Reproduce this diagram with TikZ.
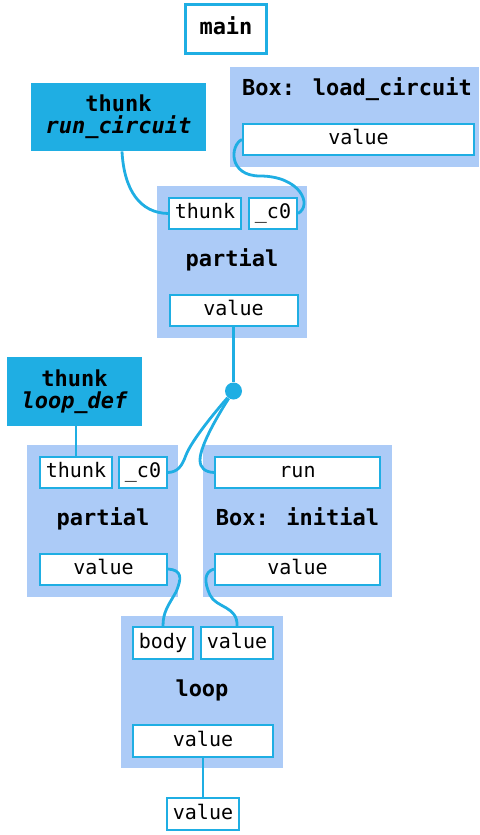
\documentclass[tikz,border=0pt]{standalone}
\usepackage{fontspec}
\setmainfont{DejaVu Sans Mono}
\definecolor{CellBlue}{RGB}{31,174,227}
\definecolor{PaleBlue}{RGB}{172,203,247}
\usetikzlibrary{positioning}

\begin{document}
\begin{tikzpicture}[x=0.5pt, y=-0.5pt,
        port/.style={rectangle, draw=CellBlue, line width=1pt, fill=white, inner sep=0pt, minimum height=15.5pt, font=\fontsize{10}{12}\selectfont, text height=7.3pt, text depth=2.3pt},
        frame/.style={rectangle, fill=PaleBlue, inner sep=0pt, minimum height=76pt},
        thunkbox/.style={rectangle, fill=CellBlue, inner sep=0pt, align=center, font=\fontsize{11}{11}\selectfont\bfseries},
        title/.style={anchor=base, inner sep=0pt, font=\fontsize{11}{13}\selectfont\bfseries},
        link/.style={draw=CellBlue, line width=1.4pt}
    ]
        \useasboundingbox (0,0) rectangle (479,835);
        \node[draw=CellBlue, line width=1.5pt, minimum width=40.5pt, minimum height=24.5pt, inner sep=0pt, font=\fontsize{11}{13}\selectfont\bfseries, text height=8.4pt, text depth=2.8pt] (main) at (226,29) {main};
        \node[thunkbox, minimum width=87.5pt, minimum height=34pt] (runc) at (118.5,117) {thunk\\\itshape run\_circuit};
        \node[thunkbox, minimum width=67.5pt, minimum height=34.5pt] (loopdef) at (74.5,391.5) {thunk\\\itshape loop\_def};
        \node[frame, minimum width=124.5pt, minimum height=50pt] (loadbox) at (354.5,117) {};
        \node[frame, minimum width=75pt] (partA) at (232,262) {};
        \node[frame, minimum width=75.5pt] (partB) at (102.5,521) {};
        \node[frame, minimum width=94.5pt] (initbox) at (297.5,521) {};
        \node[frame, minimum width=81pt] (loopbox) at (202,692) {};
        \node[title] (loadtitle) at (357,95) {Box: load\_circuit};
        \node[title] (partAtitle) at (232,266) {partial};
        \node[title] (partBtitle) at (103,525) {partial};
        \node[title] (inittitle) at (297.5,525) {Box: initial};
        \node[title] (looptitle) at (202,696) {loop};
        \node[port, minimum width=115.5pt] (loadval) at (358.5,139.5) {value};
        \node[port, minimum width=36pt] (partAthunk) at (205,213.5) {thunk};
        \node[port, minimum width=24pt] (partAc) at (273,213.5) {\_c0};
        \node[port, minimum width=64pt] (partAval) at (233.5,310.5) {value};
        \node[port, minimum width=36pt] (partBthunk) at (76,472.5) {thunk};
        \node[port, minimum width=24pt] (partBc) at (143,472.5) {\_c0};
        \node[port, minimum width=63.5pt] (partBval) at (103.5,569) {value};
        \node[port, minimum width=82.5pt] (initrun) at (297.5,472.5) {run};
        \node[port, minimum width=82.5pt] (initval) at (297.5,569) {value};
        \node[port, minimum width=30pt, minimum height=16pt] (loopbody) at (163,643) {body};
        \node[port, minimum width=36pt, minimum height=16pt] (loopin) at (237,643) {value};
        \node[port, minimum width=70pt, minimum height=16pt] (loopval) at (203,741) {value};
        \node[port, minimum width=36pt, minimum height=16pt] (result) at (203,814) {value};
        \node[circle, fill=CellBlue, inner sep=0pt, minimum size=8.5pt] (split) at (233.5,391) {};
        \draw[link] ([xshift=1.75pt]runc.south) .. controls (124,190) and (140,213) .. (partAthunk.west);
        \draw[link] (loadval.west) .. controls (230,145) and (228,176) .. (260,176) .. controls (300,176) and (313,205) .. (partAc.east);
        \draw[link] (partAval.south) -- (split);
        \draw[link] (split) .. controls (215,412) and (192,440) .. (186,455) .. controls (182,466) and (178,472) .. (partBc.east);
        \draw[link] (split) .. controls (220,412) and (200,445) .. (200,460) .. controls (200,468) and (205,472) .. (initrun.west);
        \draw[link] (partBthunk.north |- loopdef.south) -- (partBthunk.north);
        \draw[link] (partBval.east) .. controls (182,570) and (182,578) .. (176,592) .. controls (168,606) and (163,612) .. (loopbody.north);
        \draw[link] (initval.west) .. controls (204,572) and (204,582) .. (210,595) .. controls (216,608) and (238,606) .. (loopin.north);
        \draw[link] (loopval.south) -- (result.north);
    \end{tikzpicture}
\end{document}
